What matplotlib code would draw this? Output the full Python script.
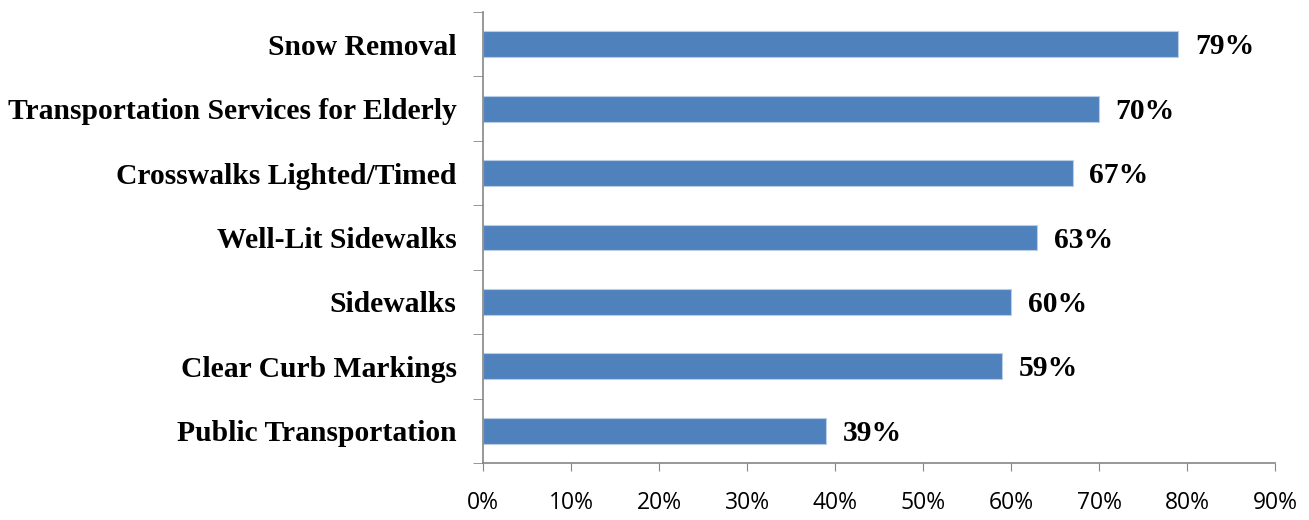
import numpy as np
import matplotlib.pyplot as plt
from matplotlib.ticker import FixedLocator

categories = ['Public Transportation', 'Clear Curb Markings', 'Sidewalks',
              'Well-Lit Sidewalks', 'Crosswalks Lighted/Timed',
              'Transportation Services for Elderly', 'Snow Removal']
values = [39, 59, 60, 63, 67, 70, 79]
xticks = np.arange(0, 91, 10)

fig = plt.figure(figsize=(13.09, 5.2), dpi=100)
ax = fig.add_axes([483 / 1309, 1 - 463 / 520, (1275 - 483) / 1309, (463 - 12) / 520])

y = np.arange(len(categories))
ax.barh(y, values, height=0.4, color='#4F81BD', edgecolor='#B9CDE5', linewidth=0.8)

for yi, v in zip(y, values):
    ax.text(v + 1.9, yi - 0.04, f'{v}%', va='center', ha='left', fontsize=21.3,
            fontweight='bold', family='Liberation Serif')

ax.set_xlim(0, 90)
ax.set_ylim(-0.5, len(categories) - 0.5)
ax.set_xticks(xticks)
ax.set_xticklabels([f'{t}%' for t in xticks], fontsize=16.5, family='Open Sans')
ax.set_yticks(y)
ax.set_yticklabels(categories, fontsize=21.3, fontweight='bold', family='Liberation Serif')
ax.yaxis.set_minor_locator(FixedLocator(np.arange(-0.5, len(categories), 1)))

ax.tick_params(axis='y', which='major', length=0, pad=19)
ax.tick_params(axis='y', which='minor', length=7, color='#868686', direction='out')
ax.tick_params(axis='x', length=6, color='#868686', direction='out', pad=14)

for s in ['top', 'right']:
    ax.spines[s].set_visible(False)
for s in ['left', 'bottom']:
    ax.spines[s].set_color('#868686')
    ax.spines[s].set_linewidth(1.2)

fig.savefig('out.png', dpi=100)
